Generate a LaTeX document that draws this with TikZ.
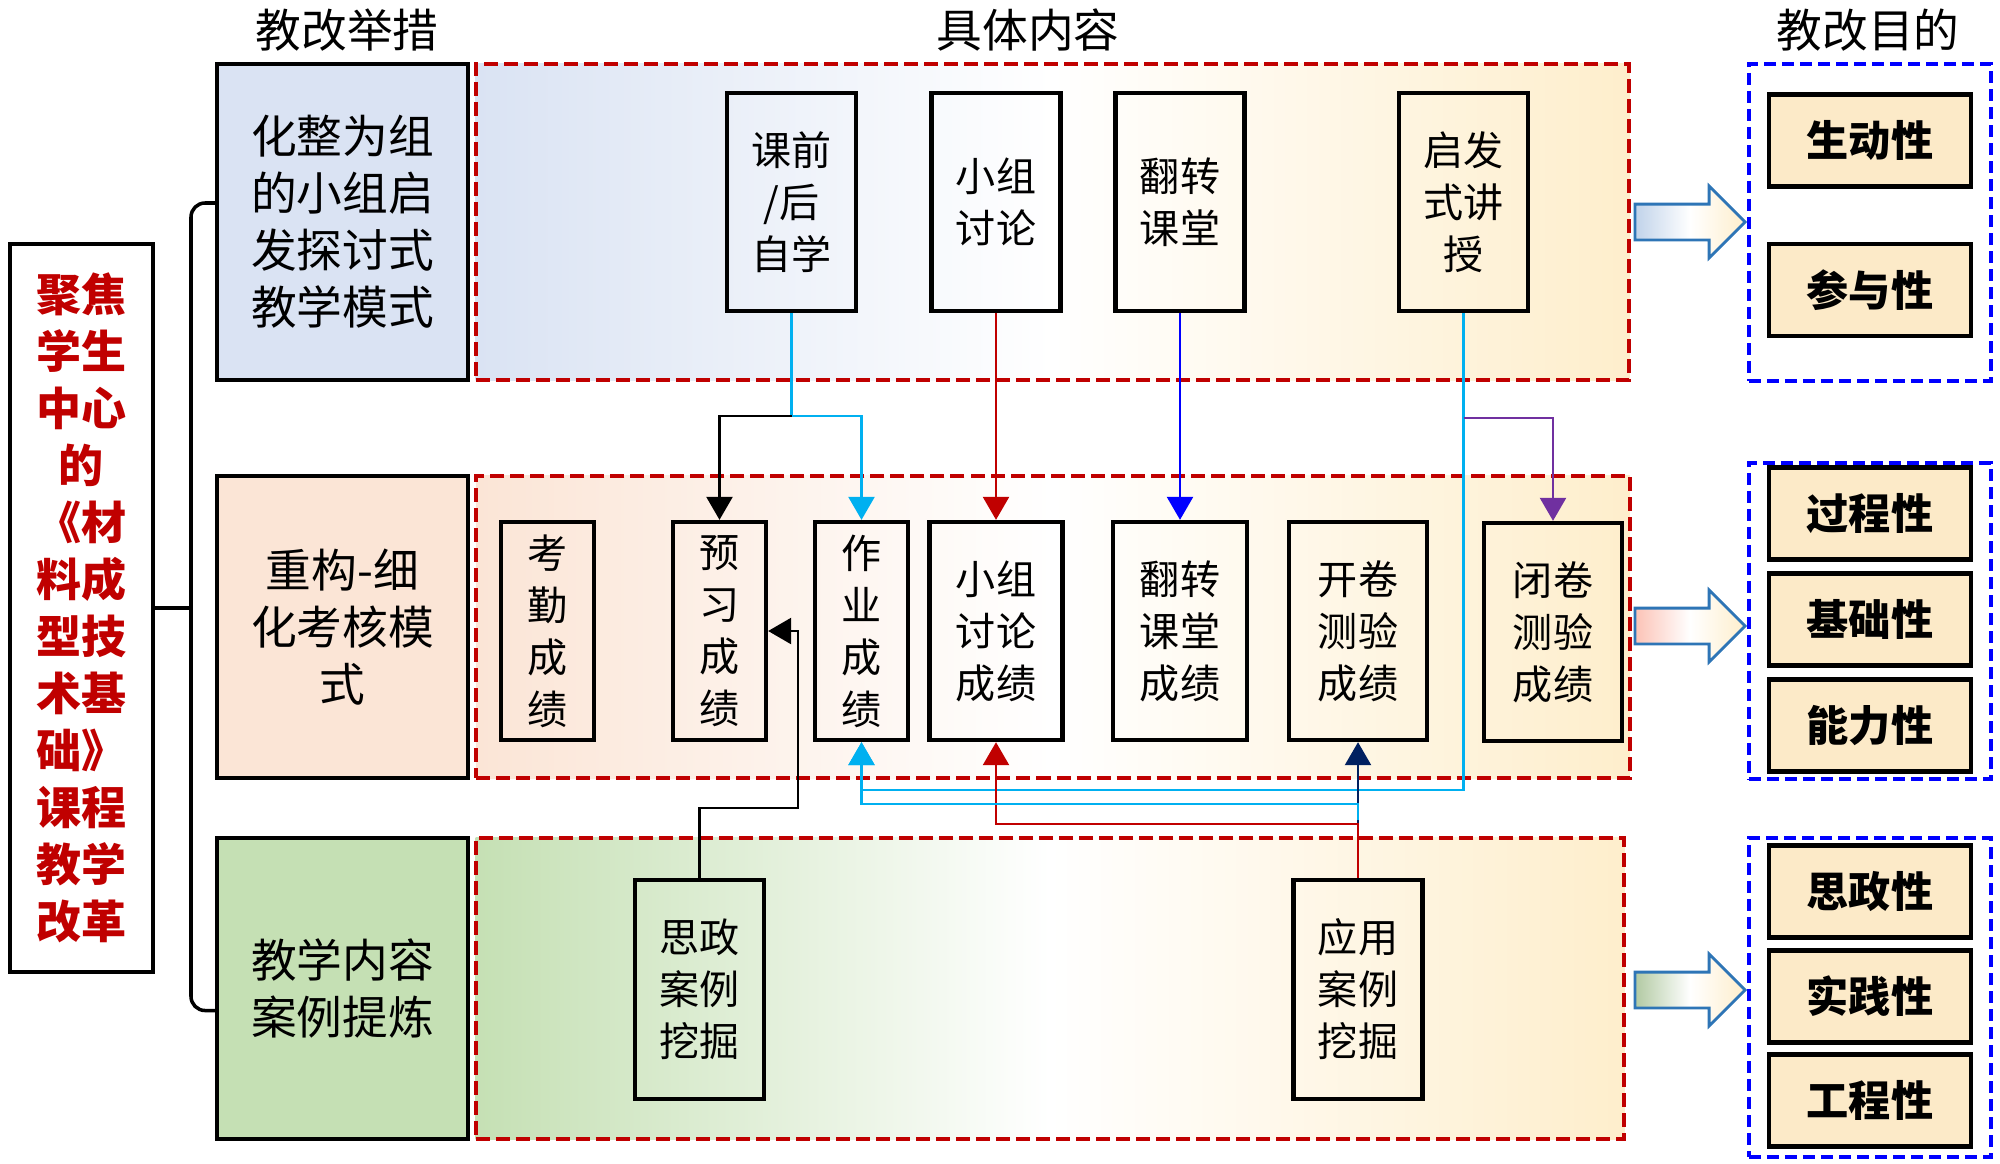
\documentclass[tikz,border=0pt]{standalone}
\usepackage{fontspec}
\setmainfont{Noto Sans CJK SC}
\usetikzlibrary{shapes.arrows,arrows.meta}
\definecolor{dred}{RGB}{192,0,0}
\definecolor{lblue}{RGB}{218,227,243}
\definecolor{lpink}{RGB}{251,229,214}
\definecolor{lgreen}{RGB}{197,224,180}
\definecolor{cream}{RGB}{254,238,204}
\definecolor{tan}{RGB}{252,234,200}
\definecolor{skyline}{RGB}{0,176,240}
\definecolor{purp}{RGB}{112,48,160}
\definecolor{navy}{RGB}{0,32,96}
\definecolor{steel}{RGB}{46,117,182}
\tikzset{
  measure/.style={draw, line width=1.2pt, minimum width=2.51cm, align=center,
    font=\fontsize{13pt}{16.2pt}\selectfont},
  region/.style={draw=dred, line width=1.2pt, dash pattern=on 0.14cm off 0.06cm,
    minimum width=11.53cm},
  content/.style={draw, line width=1.2pt, minimum height=2.18cm, align=center,
    font=\fontsize{11.4pt}{14.8pt}\selectfont, inner sep=0pt},
  aim/.style={draw=blue, line width=1.2pt, dash pattern=on 0.12cm off 0.06cm,
    minimum width=2.42cm},
  goal/.style={draw, fill=tan, line width=1.2pt, minimum width=2.02cm,
    minimum height=0.92cm, font=\bfseries\fontsize{12pt}{14pt}\selectfont},
  fat/.style={single arrow, draw=steel, line width=0.8pt, minimum height=1.1cm,
    minimum width=0.69cm, single arrow head extend=0.18cm, inner sep=0pt,
    text height=0.33cm, text depth=0pt, anchor=tip},
  link/.style={line width=0.7pt, -{Triangle[length=0.23cm,width=0.26cm]}},
  head/.style={font=\fontsize{13pt}{16pt}\selectfont}
}
\begin{document}
\begin{tikzpicture}[x=0.01cm, y=-0.01cm]
\useasboundingbox (0,0) rectangle (2000,1163);
\node[head] (hdA) at (347,30) {教改举措};
\node[head] (hdB) at (1028,30) {具体内容};
\node[head] (hdC) at (1868,30) {教改目的};

\node[draw, line width=1.2pt, minimum width=1.43cm, minimum height=7.28cm, align=center,
  text=dred, font=\bfseries\fontsize{12.8pt}{16.2pt}\selectfont] (title) at (81.5,608)
  {聚焦\\学生\\中心\\的\\《材\\料成\\型技\\术基\\础》\\课程\\教学\\改革};

\node[measure, fill=lblue, minimum height=3.16cm] (mA) at (342.5,222) {化整为组\\的小组启\\发探讨式\\教学模式};
\node[measure, fill=lpink, minimum height=3.02cm] (mB) at (342.5,627) {重构-细\\化考核模\\式};
\node[measure, fill=lgreen, minimum height=3.01cm] (mC) at (342.5,988.5) {教学内容\\案例提炼};

\coordinate (bk) at (191,608);
\draw[line width=1pt, rounded corners=4pt] ([yshift=0.19cm]mA.west) -| (bk) |- ([yshift=-0.22cm]mC.west);
\draw[line width=1pt] (title.east) -- (bk);

\node[region, minimum height=3.16cm, left color=lblue, right color=cream, middle color=white] (rA) at (1052.5,222) {};
\node[region, minimum height=3.02cm, left color=lpink, right color=cream, middle color=white] (rB) at (1053,627) {};
\node[region, minimum height=3.01cm, minimum width=11.48cm, left color=lgreen, right color=cream, middle color=white] (rC) at (1050,988.5) {};

\node[content, minimum width=1.29cm] (cA) at (791.5,202) {课前\\/后\\自学};
\node[content, minimum width=1.29cm] (cB) at (996,202) {小组\\讨论};
\node[content, minimum width=1.29cm] (cC) at (1180,202) {翻转\\课堂};
\node[content, minimum width=1.29cm] (cD) at (1463.5,202) {启发\\式讲\\授};

\node[content, minimum width=0.93cm] (sA) at (547.5,631) {考\\勤\\成\\绩};
\node[content, minimum width=0.93cm] (sB) at (719.5,631) {预\\习\\成\\绩};
\node[content, minimum width=0.93cm] (sC) at (861.5,631) {作\\业\\成\\绩};
\node[content, minimum width=1.33cm] (sD) at (996,631) {小组\\讨论\\成绩};
\node[content, minimum width=1.34cm] (sE) at (1180,631) {翻转\\课堂\\成绩};
\node[content, minimum width=1.38cm] (sF) at (1358,631) {开卷\\测验\\成绩};
\node[content, minimum width=1.38cm] (sG) at (1553,632) {闭卷\\测验\\成绩};

\node[content, minimum width=1.29cm, minimum height=2.19cm] (bA) at (699.5,989.5) {思政\\案例\\挖掘};
\node[content, minimum width=1.29cm, minimum height=2.19cm] (bB) at (1358,989.5) {应用\\案例\\挖掘};

\coordinate (jA) at (791.5,416);
\coordinate (jD) at (1463.5,418);
\draw[link, skyline] (cA.south) -- (jA) -| (sC.north);
\draw[link] (jA) -| (sB.north);
\draw[link, dred] (cB.south) -- (sD.north);
\draw[link, blue] (cC.south) -- (sE.north);
\draw[link, skyline] (cD.south) |- ([yshift=-0.48cm]sC.south) -- (sC.south);
\draw[link, purp] (jD) -| (sG.north);
\draw[link, navy] (bB.north) -- (sF.south);
\draw[link, dred] (bB.north) |- ([yshift=-0.82cm]sD.south) -- (sD.south);
\draw[link, skyline] ([yshift=0.58cm]bB.north) |- ([yshift=-0.62cm]sC.south) -- (sC.south);
\draw[link] (bA.north) -- ++(0,-70) -| ([xshift=0.3cm]sB.east) -- (sB.east);

\node[fat, left color=lblue!85!steel, right color=cream, middle color=white] (fA) at (1747,222) {};
\node[fat, left color=lpink!85!red, right color=cream, middle color=white] (fB) at (1747,626) {};
\node[fat, left color=lgreen!90!black, right color=cream, middle color=white] (fC) at (1747,990) {};

\node[aim, minimum height=3.17cm] (aA) at (1870,222.5) {};
\node[aim, minimum height=3.16cm] (aB) at (1870,621) {};
\node[aim, minimum height=3.19cm] (aC) at (1870,997.5) {};

\node[goal] (gA) at (1870,140.5) {生动性};
\node[goal] (gB) at (1870,290) {参与性};
\node[goal] (gC) at (1870,513.5) {过程性};
\node[goal] (gD) at (1870,619.5) {基础性};
\node[goal] (gE) at (1870,725.5) {能力性};
\node[goal] (gF) at (1870,891.5) {思政性};
\node[goal] (gG) at (1870,996.5) {实践性};
\node[goal] (gH) at (1870,1100.5) {工程性};
\end{tikzpicture}
\end{document}
